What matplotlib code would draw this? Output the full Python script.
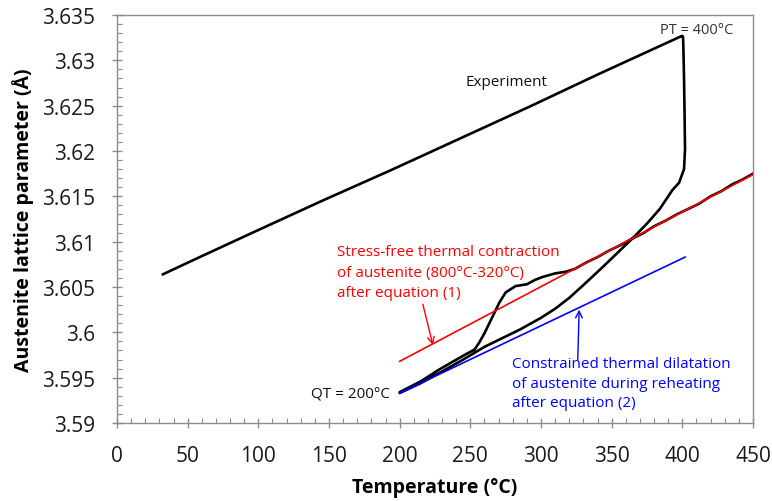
import matplotlib
matplotlib.use("Agg")
import matplotlib.pyplot as plt
from matplotlib.ticker import MultipleLocator, FixedLocator

plt.rcParams['font.family'] = ['Open Sans', 'DejaVu Sans']

# ---- data ----
# Experiment: quench 450->200, reheating 200->PT, isothermal hold, cooling to RT
quench_T = [450, 442, 435, 428, 420, 412, 404, 396, 388, 380, 372, 364, 356, 348,
            340, 332, 324, 318, 310, 301, 296, 290, 282, 275, 270.6, 265, 260,
            256.4, 253, 247, 238, 228, 215, 200]
quench_a = [3.6175, 3.6168, 3.6163, 3.6156, 3.6150, 3.6142, 3.6136, 3.6130,
            3.6123, 3.6117, 3.6109, 3.6103, 3.6096, 3.6090, 3.6083, 3.6077,
            3.6070, 3.6067, 3.6065, 3.6061, 3.6058, 3.6053, 3.6051, 3.6044,
            3.6033, 3.6015, 3.5999, 3.5989, 3.5981, 3.5976, 3.5968, 3.5959,
            3.5946, 3.5934]
reheat_T = [200, 215, 228, 245, 260, 285, 300, 310, 320, 332, 345, 355, 365,
            375, 384, 393, 397.7, 401.2, 401.9]
reheat_a = [3.5933, 3.5944, 3.5955, 3.5970, 3.5984, 3.6003, 3.6016, 3.6026,
            3.6038, 3.6055, 3.6074, 3.6089, 3.6104, 3.6120, 3.6136, 3.6157,
            3.6165, 3.6180, 3.6202]
hold_T = [401.6, 401.2, 400.8, 400.5]
hold_a = [3.6240, 3.6280, 3.6310, 3.6326]
cool_T = [399.8, 341, 292, 243, 194, 145, 96, 54.4, 32.5]
cool_a = [3.6327, 3.6285, 3.6249, 3.6214, 3.6179, 3.6145, 3.6110, 3.6080, 3.6064]

red_T = [200, 450]
red_a = [3.5968, 3.6174]
blue_T = [200, 402]
blue_a = [3.5933, 3.6083]

xticks = [0, 50, 100, 150, 200, 250, 300, 350, 400, 450]
yticks = [3.59, 3.595, 3.6, 3.605, 3.61, 3.615, 3.62, 3.625, 3.63, 3.635]
ytick_labels = ["3.59", "3.595", "3.6", "3.605", "3.61", "3.615", "3.62",
                "3.625", "3.63", "3.635"]

exp_T = quench_T + reheat_T + hold_T + cool_T
exp_a = quench_a + reheat_a + hold_a + cool_a

# ---- figure ----
fig = plt.figure(figsize=(7.72, 5.02), dpi=100)
ax = fig.add_axes([117/772, 1-424/502, (753-117)/772, (424-16)/502])

ax.plot(exp_T, exp_a, color='black', lw=1.9, solid_joinstyle='round', zorder=2)
ax.plot(red_T, red_a, color='#ff0000', lw=1.2, zorder=3)
ax.plot(blue_T, blue_a, color='#0000ff', lw=1.2, zorder=3)

ax.set_xlim(0, 450)
ax.set_ylim(3.59, 3.635)
ax.xaxis.set_major_locator(FixedLocator(xticks))
ax.xaxis.set_minor_locator(MultipleLocator(10))
ax.yaxis.set_major_locator(FixedLocator(yticks))
ax.set_yticklabels(ytick_labels)
ax.yaxis.set_minor_locator(MultipleLocator(0.001))

spine_col = '#8c8c8c'
for s in ax.spines.values():
    s.set_color(spine_col)
    s.set_linewidth(1.0)

ax.tick_params(which='major', direction='inout', length=7, width=1.0,
               color=spine_col, labelsize=15, labelcolor='#1a1a1a', pad=12)
ax.tick_params(which='minor', direction='in', length=3.5, width=0.8,
               color=spine_col)
ax.tick_params(top=False, right=False, which='both')

ax.set_xlabel('Temperature (°C)', fontsize=14, fontweight='bold', labelpad=8)
ax.set_ylabel('Austenite lattice parameter (Å)', fontsize=14,
              fontweight='bold', labelpad=6)

# annotations
ax.text(275.8, 3.6277, 'Experiment', fontsize=11, color='#111111',
        ha='center', va='center')
ax.text(410, 3.6334, 'PT = 400°C', fontsize=10.5, color='#333333',
        ha='center', va='center')
ax.text(193, 3.5933, 'QT = 200°C', fontsize=11, color='#111111',
        ha='right', va='center')

ax.text(155.5, 3.6066, 'Stress-free thermal contraction\nof austenite (800°C-320°C)\nafter equation (1)',
        fontsize=11, color='#ff0000', ha='left', va='center', linespacing=1.5)
ax.text(279.5, 3.5944, 'Constrained thermal dilatation\nof austenite during reheating\nafter equation (2)',
        fontsize=11, color='#0000ff', ha='left', va='center', linespacing=1.42)

ax.annotate('', xy=(223.5, 3.5986), xytext=(216.4, 3.6031),
            arrowprops=dict(arrowstyle='->', color='#ff0000', lw=1.0,
                            mutation_scale=12, shrinkA=0, shrinkB=0))
ax.annotate('', xy=(327.0, 3.6025), xytext=(326.0, 3.5970),
            arrowprops=dict(arrowstyle='->', color='#0000ff', lw=1.0,
                            mutation_scale=12, shrinkA=0, shrinkB=0))

fig.savefig('out.png', dpi=100)
